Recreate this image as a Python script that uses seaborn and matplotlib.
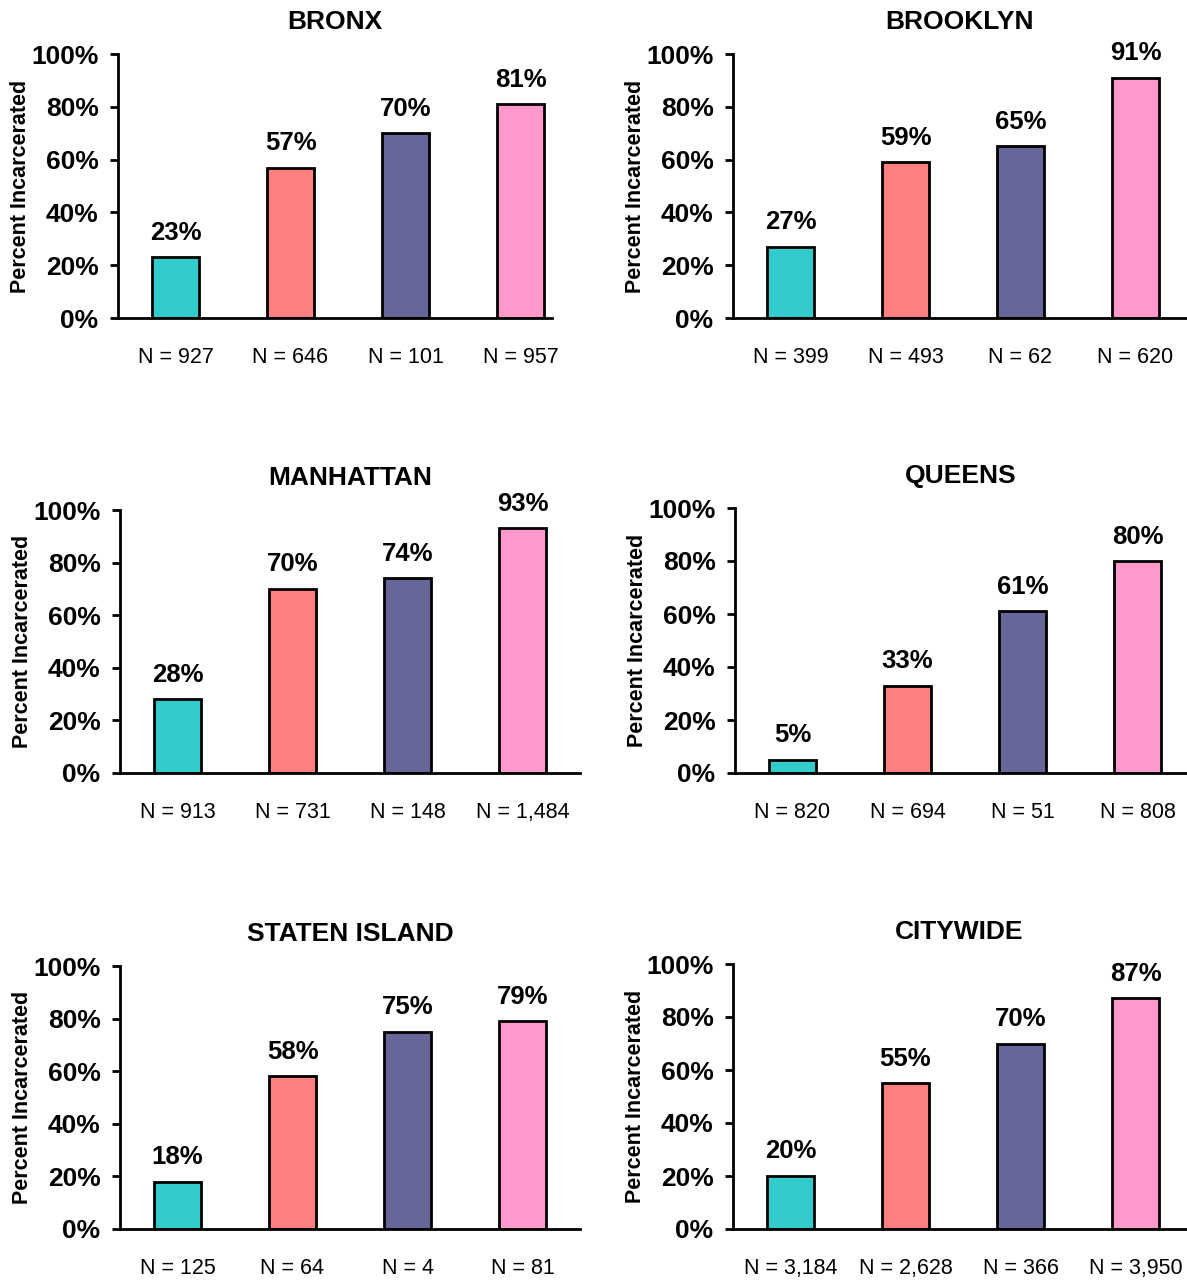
import matplotlib
matplotlib.use("Agg")
import matplotlib.pyplot as plt
import seaborn as sns
import pandas as pd

# Percent incarcerated by borough, four groups each
groups = ["Group 1", "Group 2", "Group 3", "Group 4"]
group_colors = ["#33CCCC", "#FF8080", "#666699", "#FF99CC"]

boroughs = ["BRONX", "BROOKLYN", "MANHATTAN", "QUEENS", "STATEN ISLAND", "CITYWIDE"]

bronx_pct = [23, 57, 70, 81]
brooklyn_pct = [27, 59, 65, 91]
manhattan_pct = [28, 70, 74, 93]
queens_pct = [5, 33, 61, 80]
staten_pct = [18, 58, 75, 79]
citywide_pct = [20, 55, 70, 87]

bronx_n = [927, 646, 101, 957]
brooklyn_n = [399, 493, 62, 620]
manhattan_n = [913, 731, 148, 1484]
queens_n = [820, 694, 51, 808]
staten_n = [125, 64, 4, 81]
citywide_n = [3184, 2628, 366, 3950]

pct_by_borough = [bronx_pct, brooklyn_pct, manhattan_pct, queens_pct, staten_pct, citywide_pct]
n_by_borough = [bronx_n, brooklyn_n, manhattan_n, queens_n, staten_n, citywide_n]

y_ticks = [0, 20, 40, 60, 80, 100]

sns.set_theme(style="white")
plt.rcParams["font.family"] = ["Liberation Sans", "DejaVu Sans"]
plt.rcParams["text.color"] = "black"
plt.rcParams["axes.labelcolor"] = "black"
plt.rcParams["xtick.color"] = "black"
plt.rcParams["ytick.color"] = "black"

W, H = 1187, 1281
fig = plt.figure(figsize=(W / 100, H / 100), dpi=100)
fig.patch.set_facecolor("white")

# axes frames in pixels: left, right, top, bottom
frames = [
    (118, 552, 54, 318),
    (733, 1186, 54, 318),
    (120, 580, 510, 773),
    (735, 1186, 508, 773),
    (120, 580, 966, 1229),
    (733, 1186, 964, 1229),
]
bar_step_px = 115.0

for name, pct, ns, (l, r, t, b) in zip(boroughs, pct_by_borough, n_by_borough, frames):
    ax = fig.add_axes([l / W, 1 - b / H, (r - l) / W, (b - t) / H])
    df = pd.DataFrame({"group": groups, "pct": pct})
    sns.barplot(data=df, x="group", y="pct", hue="group", order=groups,
                hue_order=groups, palette=group_colors, width=0.41,
                edgecolor="black", linewidth=2.0, saturation=1,
                legend=False, ax=ax)
    for cont in ax.containers:
        ax.bar_label(cont, fmt="%d%%", padding=9, fontsize=18.5,
                     fontweight="bold", color="black")
    ax.set_xlim(-0.5, -0.5 + (r - l) / bar_step_px)
    ax.set_ylim(0, 100)
    ax.set_yticks(y_ticks)
    ax.set_yticklabels([f"{v}%" for v in y_ticks], fontsize=19, fontweight="bold")
    ax.set_xticks(range(len(groups)))
    ax.set_xticklabels([f"N = {v:,}" for v in ns], fontsize=15.5)
    ax.tick_params(axis="x", length=0, pad=21)
    ax.tick_params(axis="y", length=6, width=2, direction="out", pad=8, left=True)
    ax.set_xlabel("")
    ax.set_ylabel("Percent Incarcerated", fontsize=15.5, fontweight="bold", labelpad=0)
    ax.set_title(name, fontsize=19, fontweight="bold", pad=18)
    for side in ["top", "right"]:
        ax.spines[side].set_visible(False)
    for side in ["left", "bottom"]:
        ax.spines[side].set_visible(True)
        ax.spines[side].set_linewidth(2)
        ax.spines[side].set_color("black")
    ax.set_facecolor("white")

fig.savefig("out.png", dpi=100, facecolor="white")
